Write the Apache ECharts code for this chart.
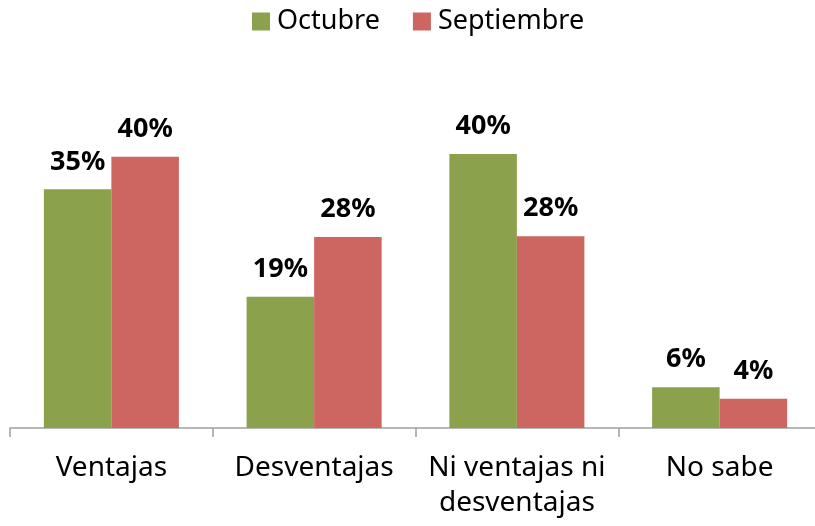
<!DOCTYPE html>
<html>
<head>
<meta charset="utf-8">
<script src="https://cdn.jsdelivr.net/npm/echarts@6/dist/echarts.min.js"></script>
<style>
html,body{margin:0;padding:0;background:#fff;}
#chart{width:815px;height:526px;}
</style>
</head>
<body>
<div id="chart"></div>
<script>
const categories = ['Ventajas', 'Desventajas', 'Ni ventajas ni\ndesventajas', 'No sabe'];
const seriesNames = ['Octubre', 'Septiembre'];
const octubre = [35.1, 19.3, 40.3, 6.0];
const septiembre = [39.9, 28.1, 28.2, 4.3];
const colors = ['#8ba14b', '#cd6661'];

const chart = echarts.init(document.getElementById('chart'), null, {renderer: 'canvas'});
const labelStyle = {
  show: true,
  position: 'top',
  distance: 14,
  fontFamily: 'Noto Sans',
  fontWeight: 'bold',
  fontSize: 27,
  color: '#000',
  formatter: p => Math.round(p.value) + '%'
};
chart.setOption({
  animation: false,
  legend: {
    data: seriesNames,
    left: 252,
    top: 8,
    padding: 0,
    itemWidth: 18,
    itemHeight: 18,
    itemGap: 33,
    icon: 'rect',
    textStyle: {fontFamily: 'Noto Sans', fontSize: 27, color: '#000', padding: [0, 0, 0, 2]}
  },
  grid: {left: 10, width: 811, top: 88, bottom: 98, containLabel: false, outerBoundsMode: 'none'},
  xAxis: {
    type: 'category',
    data: categories,
    axisLine: {lineStyle: {color: '#a0a0a0', width: 1.5}},
    axisTick: {show: true, length: 9, lineStyle: {color: '#a0a0a0', width: 1.5}},
    axisLabel: {
      margin: 23,
      fontFamily: 'Noto Sans',
      fontSize: 28,
      lineHeight: 35,
      color: '#000',
      interval: 0
    }
  },
  yAxis: {
    type: 'value',
    min: 0,
    max: 50,
    show: false,
    splitLine: {show: false}
  },
  series: [
    {
      name: seriesNames[0],
      type: 'bar',
      data: octubre,
      barGap: '0%',
      barCategoryGap: '33.4%',
      itemStyle: {color: colors[0]},
      label: labelStyle
    },
    {
      name: seriesNames[1],
      type: 'bar',
      data: septiembre,
      barGap: '0%',
      barCategoryGap: '33.4%',
      itemStyle: {color: colors[1]},
      label: labelStyle
    }
  ]
});
</script>
</body>
</html>
